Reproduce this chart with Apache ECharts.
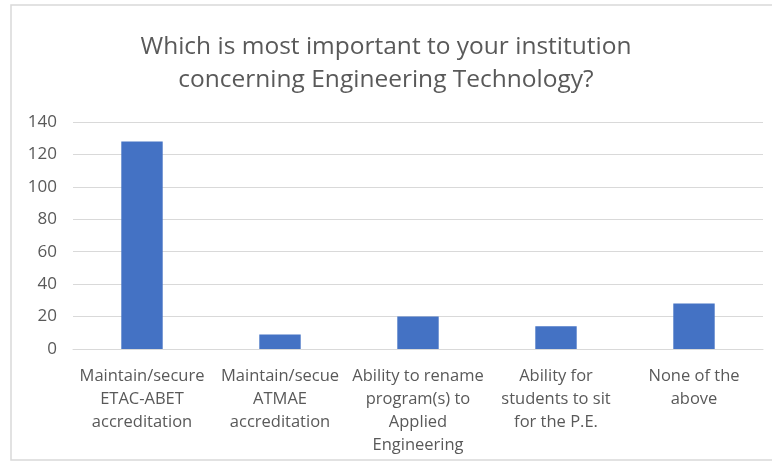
<!DOCTYPE html>
<html>
<head>
<meta charset="utf-8">
<style>
  html, body { margin: 0; padding: 0; background: #fff; }
  #myChart { width: 772px; height: 467px; }
</style>
<script src="https://cdn.jsdelivr.net/npm/echarts@6/dist/echarts.min.js"></script>
</head>
<body>
<div id="myChart"></div>
<script>
// data
var categories = [
  "Maintain/secure\nETAC-ABET\naccreditation",
  "Maintain/secue\nATMAE\naccreditation",
  "Ability to rename\nprogram(s) to\nApplied\nEngineering",
  "Ability for\nstudents to sit\nfor the P.E.",
  "None of the\nabove"
];
var counts = [128, 9, 20, 14, 28];
var yTicks = [0, 20, 40, 60, 80, 100, 120, 140];

var myChart = echarts.init(document.getElementById('myChart'));
var textColor = "#595959";
var font = "'Open Sans', sans-serif";

var option = {
  animation: false,
  title: {
    text: "Which is most important to your institution\nconcerning Engineering Technology?",
    left: "center",
    top: 26,
    textStyle: {
      fontFamily: font,
      fontSize: 24.5,
      fontWeight: "normal",
      color: textColor,
      lineHeight: 33
    }
  },
  graphic: [{
    type: "rect",
    shape: { x: 11, y: 5, width: 770, height: 455 },
    style: { fill: "none", stroke: "#d9d9d9", lineWidth: 1.5 },
    silent: true
  }],
  grid: {
    left: 73,
    right: 9,
    top: 122,
    bottom: 118
  },
  xAxis: {
    type: "category",
    data: categories,
    axisTick: { show: false },
    axisLine: { lineStyle: { color: "#d9d9d9" } },
    axisLabel: {
      interval: 0,
      margin: 16,
      color: textColor,
      fontFamily: font,
      fontSize: 16.5,
      lineHeight: 23,
      verticalAlign: "top"
    }
  },
  yAxis: {
    type: "value",
    min: yTicks[0],
    max: yTicks[yTicks.length - 1],
    interval: 20,
    axisLine: { show: false },
    axisTick: { show: false },
    splitLine: { lineStyle: { color: "#d9d9d9", width: 1 } },
    axisLabel: {
      margin: 16,
      color: textColor,
      fontFamily: font,
      fontSize: 17
    }
  },
  series: [{
    type: "bar",
    data: counts,
    barWidth: "30%",
    itemStyle: { color: "#4472C4" }
  }]
};
myChart.setOption(option);
</script>
</body>
</html>
